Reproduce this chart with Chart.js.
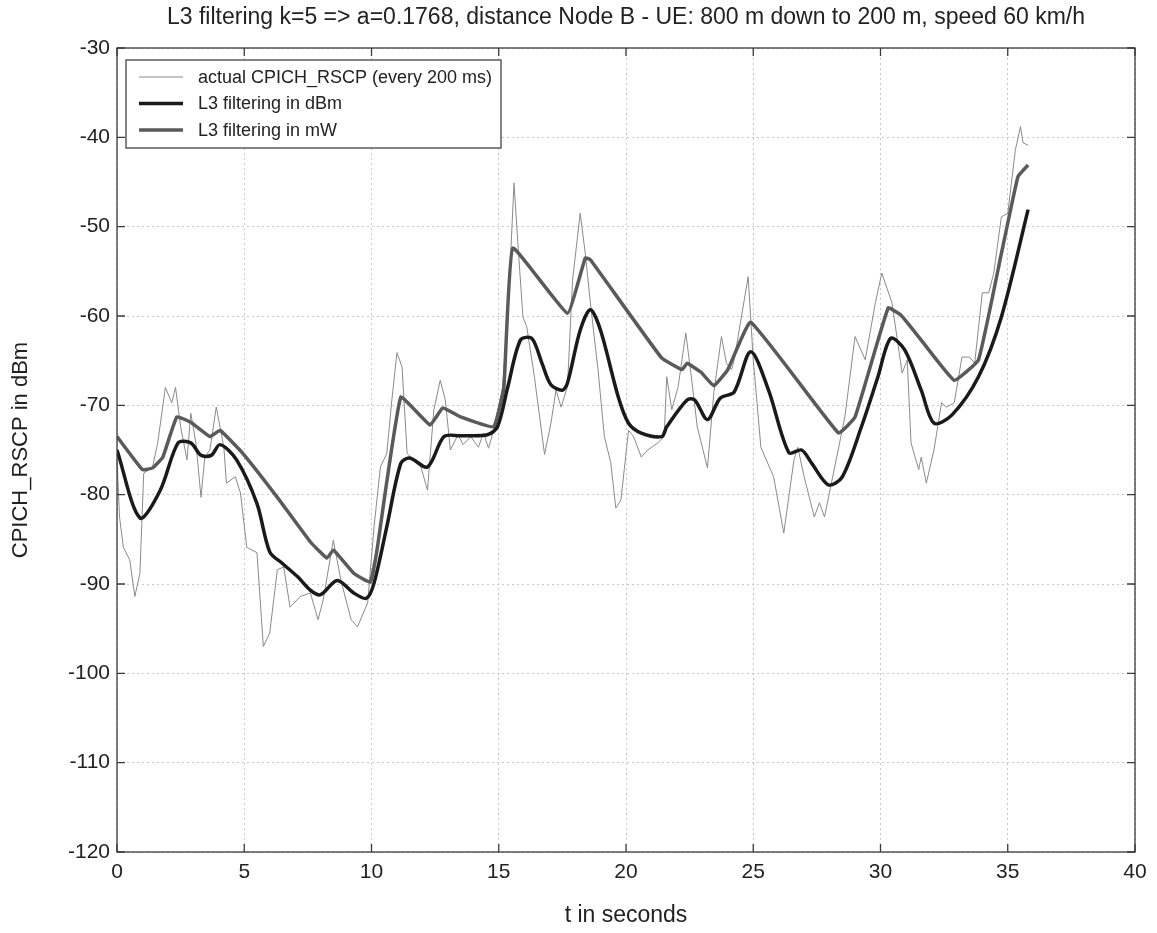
<!DOCTYPE html>
<html>
<head>
<meta charset="utf-8">
<script src="https://cdn.jsdelivr.net/npm/chart.js@4.4.1/dist/chart.umd.min.js"></script>
<style>
  html, body { margin: 0; background: #fff; }
  #wrap { width: 1157px; height: 933px; }
</style>
</head>
<body>
<div id="wrap"><canvas id="c"></canvas></div>
<script>
// measured CPICH_RSCP samples (time in s, value in dBm)
const tActual = [0, 0.1, 0.25, 0.5, 0.7, 0.9, 1.05, 1.4, 1.6, 1.9, 2.15, 2.3, 2.5, 2.75, 2.9, 3.1, 3.3, 3.45, 3.65, 3.9,
  4.2, 4.3, 4.65, 4.85, 5.1, 5.5, 5.75, 6.0, 6.3, 6.55, 6.8, 7.2, 7.6, 7.9, 8.1, 8.5, 8.8, 9.2, 9.45, 9.85,
  10.1, 10.35, 10.6, 10.8, 11.0, 11.2, 11.4, 11.65, 11.9, 12.2, 12.45, 12.7, 12.9, 13.1, 13.4, 13.6, 13.9, 14.2, 14.4, 14.6,
  14.8, 15.15, 15.35, 15.6, 15.75, 15.95, 16.1, 16.4, 16.8, 17.05, 17.25, 17.45, 17.7, 17.9, 18.2, 18.4, 18.6, 18.9, 19.15, 19.4,
  19.6, 19.8, 20.1, 20.3, 20.6, 20.85, 21.25, 21.5, 21.6, 21.8, 22.05, 22.35, 22.55, 22.8, 23.2, 23.45, 23.75, 23.95, 24.15, 24.25,
  24.8, 25.0, 25.3, 25.8, 26.2, 26.6, 26.75, 27.0, 27.4, 27.6, 27.8, 28.2, 28.6, 29.0, 29.4, 29.8, 30.05, 30.45, 30.85, 31.05,
  31.2, 31.5, 31.6, 31.8, 32.1, 32.4, 32.6, 32.9, 33.2, 33.5, 33.7, 34.0, 34.25, 34.45, 34.75, 35.0, 35.3, 35.5, 35.6, 35.8];
const vActual = [-76, -82.5, -85.9, -87.3, -91.4, -88.8, -77.6, -76.9, -74.2, -68, -69.7, -68, -72.4, -76.1, -70.9, -74.2, -80.3, -75.8, -75, -70.2,
  -74.7, -78.7, -78, -79.8, -85.9, -86.5, -97, -95.5, -88.4, -88.1, -92.6, -91.4, -91, -94, -91.8, -85.1, -89.6, -94, -94.8, -92.1,
  -83.6, -76.9, -75.4, -69.4, -64.1, -65.7, -75.4, -76.1, -76.5, -79.5, -70.5, -67.2, -69.4, -75, -73.3, -74.4, -73.5, -74.7, -73.1, -74.8,
  -72.8, -68, -60.4, -45.1, -51.8, -60.1, -61.2, -66.8, -75.5, -72, -68.3, -70.2, -67.9, -56, -48.5, -53, -58.5, -66, -73.5, -76.4,
  -81.5, -80.6, -72.8, -73.5, -75.8, -75, -74.2, -73.5, -66.8, -70.5, -67.9, -61.9, -66.4, -72.4, -77, -68.6, -62.3, -65.3, -66, -64.9,
  -55.6, -64.9, -74.7, -78, -84.3, -76.1, -74.7, -78, -82.5, -80.9, -82.5, -76.9, -71.3, -62.3, -64.9, -58.5, -55.2, -58.5, -66.4, -64.9,
  -74.2, -77.2, -75.8, -78.7, -75, -69.7, -70.2, -69.7, -64.6, -64.6, -65.3, -57.4, -57.4, -55.2, -48.9, -48.5, -41.4, -38.8, -40.6, -40.9];

// L3 filtered in dBm domain
const tDbm = [0, 0.9, 1.7, 2.4, 2.9, 3.3, 3.7, 4.05, 4.7, 5.5, 6.0, 6.5, 7.1, 7.6, 8.0, 8.65, 9.3, 9.8, 10.1, 10.6,
  11.15, 11.5, 12.2, 12.85, 13.5, 14.55, 14.95, 15.35, 15.85, 16.3, 16.7, 17.05, 17.5, 17.7, 18.2, 18.6, 19.0, 19.7, 20.1, 20.6,
  21.4, 21.6, 22.4, 22.7, 23.2, 23.7, 24.25, 24.9, 25.6, 26.4, 26.9, 27.3, 27.95, 28.5, 29.25, 29.9, 30.4, 30.95, 31.6, 32.1,
  32.8, 33.85, 34.75, 35.8];
const vDbm = [-75, -82.6, -79.5, -74.2, -74.2, -75.6, -75.6, -74.4, -76.1, -81, -86.4, -87.7, -89.2, -90.7, -91.2, -89.6, -91, -91.6, -89.9, -83.6,
  -76.5, -75.9, -76.9, -73.5, -73.4, -73.3, -72.4, -68, -62.7, -62.5, -65.3, -67.7, -68.3, -67.5, -61.6, -59.3, -61.6, -69.1, -72, -73.1,
  -73.5, -72.4, -69.4, -69.4, -71.6, -69.2, -68.5, -64, -68.3, -75.3, -75, -76.5, -78.9, -78, -72.4, -66.8, -62.5, -63.8, -68.3, -72,
  -71.1, -66.8, -60.1, -48.1];

// L3 filtered in mW domain
const tMw = [0, 1.0, 1.4, 1.8, 2.35, 2.9, 3.65, 4.05, 4.95, 6.3, 7.6, 8.25, 8.5, 9.3, 9.95, 10.2, 11.15, 12.3, 12.8, 13.5,
  14.8, 15.2, 15.55, 17.7, 18.4, 18.6, 21.4, 22.2, 22.4, 22.95, 23.45, 24.0, 24.9, 28.35, 29.0, 30.3, 30.8, 31.6, 32.9, 33.85,
  34.75, 35.4, 35.8];
const vMw = [-73.5, -77.2, -77, -75.8, -71.3, -71.9, -73.5, -72.8, -75.4, -80.3, -85.3, -87.1, -86.2, -88.8, -89.8, -86.5, -69.1, -72.2, -70.3, -71.3,
  -72.4, -68, -52.4, -59.7, -53.5, -53.7, -64.7, -66, -65.3, -66.3, -67.8, -66, -60.7, -73.1, -71.3, -59.1, -59.9, -62.7, -67.2, -64.9,
  -53, -44.4, -43.1];

const seriesNames = ['actual CPICH_RSCP (every 200 ms)', 'L3 filtering in dBm', 'L3 filtering in mW'];
const chartTitle = 'L3 filtering k=5 => a=0.1768, distance Node B - UE: 800 m down to 200 m, speed 60 km/h';
const xTicks = [0, 5, 10, 15, 20, 25, 30, 35, 40];
const yTicks = [-120, -110, -100, -90, -80, -70, -60, -50, -40, -30];

const FONT = '"Liberation Sans", Arial, sans-serif';
const pts = (ts, vs) => ts.map((t, i) => ({x: t, y: vs[i]}));

// axes box with inward tick marks, legend and title, like MATLAB
const frame = {
  id: 'frame',
  afterDatasetsDraw(chart) {
    const {ctx, chartArea: a, scales: {x, y}} = chart;
    ctx.save();
    ctx.strokeStyle = '#3a3a3a';
    ctx.lineWidth = 1.3;
    ctx.strokeRect(a.left, a.top, a.right - a.left, a.bottom - a.top);
    ctx.beginPath();
    xTicks.forEach(v => {
      const px = x.getPixelForValue(v);
      ctx.moveTo(px, a.bottom); ctx.lineTo(px, a.bottom - 8);
      ctx.moveTo(px, a.top); ctx.lineTo(px, a.top + 8);
    });
    yTicks.forEach(v => {
      const py = y.getPixelForValue(v);
      ctx.moveTo(a.left, py); ctx.lineTo(a.left + 8, py);
      ctx.moveTo(a.right, py); ctx.lineTo(a.right - 8, py);
    });
    ctx.stroke();

    // title centred over the axes
    ctx.fillStyle = '#222';
    ctx.font = '23px ' + FONT;
    ctx.textAlign = 'center';
    ctx.textBaseline = 'middle';
    ctx.fillText(chartTitle, (a.left + a.right) / 2, 18);

    // legend box in upper left corner
    const lx = a.left + 9, ly = a.top + 12, lw = 375, lh = 88;
    ctx.fillStyle = '#fff';
    ctx.fillRect(lx, ly, lw, lh);
    ctx.strokeStyle = '#333';
    ctx.lineWidth = 1.2;
    ctx.strokeRect(lx, ly, lw, lh);
    ctx.font = '18px ' + FONT;
    ctx.textAlign = 'left';
    chart.data.datasets.forEach((ds, i) => {
      const yy = ly + 17 + i * 26.5;
      ctx.strokeStyle = ds.borderColor;
      ctx.lineWidth = ds.borderWidth;
      ctx.beginPath();
      ctx.moveTo(lx + 13, yy); ctx.lineTo(lx + 57, yy);
      ctx.stroke();
      ctx.fillStyle = '#222';
      ctx.fillText(ds.label, lx + 72, yy + 1);
    });
    ctx.restore();
  }
};

new Chart(document.getElementById('c'), {
  type: 'line',
  data: {
    datasets: [
      {label: seriesNames[0], data: pts(tActual, vActual), borderColor: '#8a8a8a', borderWidth: 1, order: 3},
      {label: seriesNames[1], data: pts(tDbm, vDbm), borderColor: '#1a1a1a', borderWidth: 3.5, tension: 0.3, order: 1},
      {label: seriesNames[2], data: pts(tMw, vMw), borderColor: '#5a5a5a', borderWidth: 3.5, tension: 0.1, order: 2}
    ]
  },
  options: {
    responsive: true,
    maintainAspectRatio: false,
    animation: false,
    layout: {padding: {top: 48, right: 22, bottom: 0, left: 0}},
    elements: {point: {radius: 0}},
    plugins: {
      legend: {display: false},
      tooltip: {enabled: false},
      title: {display: false}
    },
    scales: {
      x: {
        type: 'linear', min: 0, max: 40,
        afterFit: s => { s.height = 81; },
        afterBuildTicks: s => { s.ticks = xTicks.map(v => ({value: v})); },
        ticks: {color: '#222', padding: 8, font: {family: FONT, size: 21}},
        grid: {color: '#c8c8c8', lineWidth: 1, drawTicks: false},
        border: {display: false, dash: [2, 3]},
        title: {display: true, text: 't in seconds', color: '#222',
          font: {family: FONT, size: 23}, padding: {top: 0, bottom: 4}}
      },
      y: {
        type: 'linear', min: -120, max: -30,
        afterFit: s => { s.width = 117; },
        afterBuildTicks: s => { s.ticks = yTicks.map(v => ({value: v})); },
        ticks: {color: '#222', padding: 7, font: {family: FONT, size: 21}},
        grid: {color: '#c8c8c8', lineWidth: 1, drawTicks: false},
        border: {display: false, dash: [2, 3]},
        title: {display: true, text: 'CPICH_RSCP in dBm', color: '#222',
          font: {family: FONT, size: 22}, padding: {top: 8, bottom: 0}}
      }
    }
  },
  plugins: [frame]
});
</script>
</body>
</html>
